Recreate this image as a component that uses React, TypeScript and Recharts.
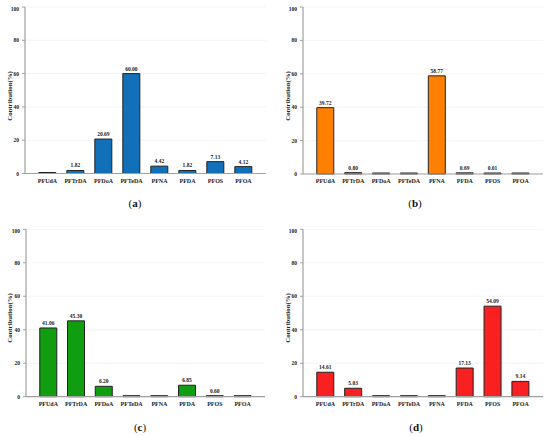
import React from 'react';
import { BarChart, Bar, XAxis, YAxis, CartesianGrid, LabelList } from 'recharts';

const categories = ['PFUdA', 'PFTrDA', 'PFDoA', 'PFTeDA', 'PFNA', 'PFDA', 'PFOS', 'PFOA'];
const seriesA = [0, 1.82, 20.69, 60.0, 4.42, 1.82, 7.13, 4.12];
const seriesB = [39.72, 0.8, 0, 0, 58.77, 0.69, 0.01, 0];
const seriesC = [41.06, 45.3, 6.2, 0, 0, 6.85, 0.6, 0];
const seriesD = [14.61, 5.03, 0, 0, 0, 17.13, 54.09, 9.14];
const yTicks = [0, 20, 40, 60, 80, 100];
const captions = ['a', 'b', 'c', 'd'];

const FONT = '"Liberation Serif", "DejaVu Serif", serif';
const FRAME = '#a0a0a0';
const TEXT = '#222222';

type PanelProps = {
  left: number;
  top: number;
  yWidth: number;
  rightMargin: number;
  topMargin: number;
  xHeight: number;
  values: number[];
  color: string;
  labelX: number;
  labelY: number;
};

const XTick = (props: any) => {
  const { x, y, payload } = props;
  return (
    <text x={x} y={y + 4} textAnchor="middle" dominantBaseline="central" fontSize={6} fontWeight={700} fontFamily={FONT} fill={TEXT} stroke="none">
      {payload.value}
    </text>
  );
};

const YTick = (props: any) => {
  const { x, y, payload } = props;
  return (
    <text x={x - 1} y={y} textAnchor="end" dominantBaseline="central" fontSize={5.5} fontWeight={700} fontFamily={FONT} fill={TEXT} stroke="none">
      {payload.value}
    </text>
  );
};

function Panel({ left, top, yWidth, rightMargin, topMargin, xHeight, values, color, labelX, labelY }: PanelProps) {
  const data = categories.map((name, i) => ({ name, value: values[i] }));
  const W = 275;
  const H = 190;
  return (
    <div style={{ position: 'absolute', left, top, width: W, height: H }}>
      <BarChart
        width={W}
        height={H}
        data={data}
        margin={{ top: topMargin, right: rightMargin, left: 0, bottom: 0 }}
        barCategoryGap="19%"
      >
        <CartesianGrid vertical={false} stroke="#ececec" strokeWidth={0.6} />
        <XAxis
          dataKey="name"
          height={xHeight}
          padding={{ left: 8.5, right: 8.5 }}
          interval={0}
          tickSize={1}
          tickLine={false}
          axisLine={{ stroke: FRAME, strokeWidth: 1.2 }}
          tick={<XTick />}
        />
        <XAxis
          xAxisId="top"
          dataKey="name"
          orientation="top"
          height={0}
          tick={false}
          tickLine={false}
          axisLine={{ stroke: FRAME, strokeWidth: 1.2 }}
        />
        <YAxis
          domain={[0, 100]}
          ticks={yTicks}
          width={yWidth}
          tickSize={3}
          tickLine={{ stroke: FRAME }}
          axisLine={{ stroke: FRAME, strokeWidth: 1.2 }}
          tick={<YTick />}
          label={{
            content: () => (
              <text
                x={labelX}
                y={labelY}
                transform={`rotate(-90 ${labelX} ${labelY})`}
                textAnchor="middle"
                dominantBaseline="central"
                fontSize={6.8}
                fontWeight={700}
                fontFamily={FONT}
                fill={TEXT}
              >
                Contribution(%)
              </text>
            ),
          }}
        />
        <YAxis
          yAxisId="right"
          orientation="right"
          domain={[0, 100]}
          width={0}
          tick={false}
          tickLine={false}
          axisLine={{ stroke: FRAME, strokeWidth: 1.2 }}
        />
        <Bar
          dataKey="value"
          fill={color}
          stroke="#222"
          strokeWidth={1}
          minPointSize={1}
          isAnimationActive={false}
        >
          <LabelList
            dataKey="value"
            position="top"
            offset={3}
            fontSize={5.5}
            fontWeight={700}
            fontFamily={FONT}
            fill={TEXT}
            formatter={(v: any) => (Number(v) > 0 ? Number(v).toFixed(2) : '')}
          />
        </Bar>
      </BarChart>
    </div>
  );
}

export default function App() {
  return (
    <div style={{ position: 'absolute', left: 0, top: 0, width: 550, height: 436, background: '#fff' }}>
      <Panel left={0} top={0} yWidth={25} rightMargin={9} topMargin={7} xHeight={16.5} values={seriesA} color="#1170b8" labelX={9} labelY={96} />
      <Panel left={275} top={0} yWidth={28} rightMargin={7} topMargin={7} xHeight={16} values={seriesB} color="#ff8000" labelX={12} labelY={96} />
      <Panel left={0} top={222} yWidth={26} rightMargin={10} topMargin={7.3} xHeight={15.3} values={seriesC} color="#109e10" labelX={9} labelY={96} />
      <Panel left={275} top={222} yWidth={28} rightMargin={7} topMargin={7.3} xHeight={15.3} values={seriesD} color="#f82020" labelX={12} labelY={96} />
      <svg width={550} height={436} style={{ position: 'absolute', left: 0, top: 0, pointerEvents: 'none' }}>
        {[
          [135, 203],
          [415, 203],
          [140, 427],
          [416, 427],
        ].map(([x, y], i) => (
          <text key={i} x={x} y={y} textAnchor="middle" dominantBaseline="central" fontSize={11} fontFamily={FONT} fill="#111">
            (<tspan fontWeight={700}>{captions[i]}</tspan>)
          </text>
        ))}
      </svg>
    </div>
  );
}
